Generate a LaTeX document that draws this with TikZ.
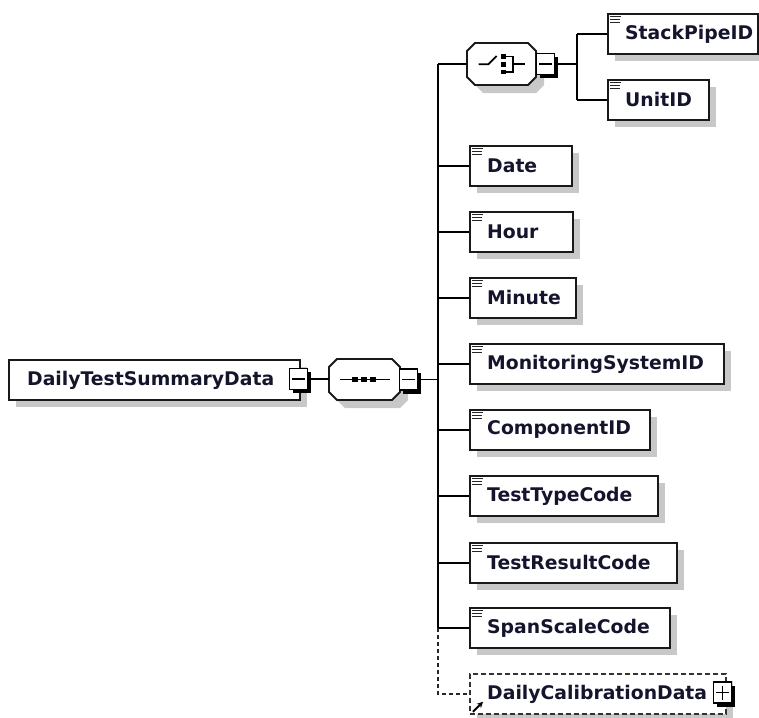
\documentclass[tikz,border=0pt]{standalone}
\usepackage{fontspec}
\setmainfont{DejaVu Sans}
\usetikzlibrary{calc,arrows.meta}
\definecolor{shadowc}{RGB}{200,200,200}
\definecolor{txt}{RGB}{20,20,45}
\tikzset{
  conn/.style={line width=1.9pt, draw=black},
  dconn/.style={line width=1.9pt, draw=black!85, dash pattern=on 4pt off 3pt},
  ebox/.style={rectangle, draw=black!90, line width=1.9pt, fill=white, minimum height=40pt, inner sep=0pt, anchor=north west},
  dbox/.style={rectangle, draw=black!80, line width=1.8pt, dash pattern=on 5pt off 3pt, fill=white, minimum height=40pt, inner sep=0pt, anchor=north west},
  etext/.style={text=txt, font=\bfseries\fontsize{18.8}{20}\selectfont, anchor=west, inner sep=0pt},
  tbox/.style={rectangle, draw=black, line width=1.6pt, fill=white, minimum width=18pt, minimum height=21pt, inner sep=0pt},
  octo/.style={draw=black!90, line width=1.9pt, fill=white},
}
% toggle box: name, cx, cy, plus flag
\newcommand\togglebox[4]{%
  \fill[black] (#2-9+3.5,#3-10.5+3.5) rectangle (#2+9+3.5,#3+10.5+3.5);
  \node[tbox] (#1) at (#2,#3) {};
  \draw[line width=1.6pt] ($(#1.center)+(-6.5,0)$) -- ++(13,0);
  \ifnum#4=1 \draw[line width=1.6pt] ($(#1.center)+(0,-7)$) -- ++(0,14);\fi
}
% element box: name, left x, top y, width, text
\newcommand\elem[5]{%
  \fill[shadowc] (#2+8,#3+8) rectangle (#2+#4+8,#3+48);
  \node[ebox, minimum width=#4pt] (#1) at (#2,#3) {};
  \node[etext] (#1-t) at ([xshift=18pt]#1.west) {#5};
  \foreach \d/\l in {3.5/10.5,6.5/10,9.5/9.5}
    \draw[line width=1.3pt, black!85] ($(#1.north west)+(3,\d)$) -- ++(\l,0);
}
% octagon: left, top, right, bottom, cut
\newcommand\octagon[5]{%
  \fill[shadowc] (#1+8+#5,#2+8) -- (#3+8-#5,#2+8) -- (#3+8,#2+8+#5) -- (#3+8,#4+8-#5) -- (#3+8-#5,#4+8) -- (#1+8+#5,#4+8) -- (#1+8,#4+8-#5) -- (#1+8,#2+8+#5) -- cycle;
  \draw[octo] (#1+#5,#2) -- (#3-#5,#2) -- (#3,#2+#5) -- (#3,#4-#5) -- (#3-#5,#4) -- (#1+#5,#4) -- (#1,#4-#5) -- (#1,#2+#5) -- cycle;
}
\begin{document}
\begin{tikzpicture}[x=1pt,y=-1pt]
\useasboundingbox (0,0) rectangle (759,717);

% ---------- root element ----------
\fill[shadowc] (16,367) rectangle (307,407);
\node[ebox, minimum width=291pt] (root) at (8,359) {};
\node[etext] (root-t) at ([xshift=19pt]root.west) {DailyTestSummaryData};
\togglebox{rootm}{298.5}{379}{0}

% ---------- sequence compositor ----------
\octagon{329}{359}{400}{400}{8}
\coordinate (seqW) at (329,379);
\draw[line width=1.8pt] (340,379.5) -- (390,379.5);
\foreach \x in {355,364,373} \fill (\x-2.6,377) rectangle (\x+2.6,382.2);
\togglebox{seqm}{408.5}{379.5}{0}

% ---------- choice compositor ----------
\octagon{467}{43}{536}{85}{8}
\coordinate (choW) at (467,64);
\draw[line width=1.8pt] (478.5,64.3) -- (488.3,64.3) -- (496.7,56);
\foreach \y in {56.5,64.3,72} \fill (500.8,\y-2.4) rectangle (505.6,\y+2.4);
\draw[line width=1.8pt] (505.4,56.5) -- (513.3,56.5) -- (513.3,72) -- (505.4,72);
\draw[line width=1.8pt] (513.3,64.3) -- (525,64.3);
\togglebox{chom}{545.5}{64}{0}

% ---------- choice children ----------
\elem{stack}{607}{13}{150}{StackPipeID}
\elem{unit}{607}{79}{101}{UnitID}

% ---------- sequence children ----------
\elem{date}{469}{145}{102}{Date}
\elem{hour}{469}{211}{103}{Hour}
\elem{minute}{469}{277}{106}{Minute}
\elem{msys}{469}{343}{254}{MonitoringSystemID}
\elem{comp}{469}{409}{180}{ComponentID}
\elem{ttype}{469}{475}{188}{TestTypeCode}
\elem{tres}{469}{542}{207}{TestResultCode}
\elem{span}{469}{607}{200}{SpanScaleCode}

% optional DailyCalibrationData
\fill[shadowc] (477,681) rectangle (733,721);
\node[dbox, minimum width=256pt] (dcal) at (469,673) {};
\node[etext] (dcal-t) at ([xshift=18pt]dcal.west) {DailyCalibrationData};
\draw[line width=2pt, -{Stealth[length=6pt,width=6pt]}] ($(dcal.south west)+(4,-3)$) -- ++(10,-10);
\togglebox{dcalp}{722.5}{692.5}{1}

% ---------- connectors ----------
\coordinate (bus) at (438,0);
\coordinate (subbus) at (577,0);
\draw[conn] (rootm.east) -- (seqW);
\draw[conn] (seqm.east) -- (bus |- seqm.east);
\draw[conn] (bus |- choW) -- (bus |- span.west);
\draw[conn] (bus |- choW) -- (choW);
\foreach \n in {date,hour,minute,msys,comp,ttype,tres,span}
  \draw[conn] (bus |- \n.west) -- (\n.west);
\draw[dconn] (bus |- span.west) -- (bus |- dcal.west) -- (dcal.west);
\draw[conn] (chom.east) -- (subbus |- chom.east);
\draw[conn] (subbus |- stack.west) -- (subbus |- unit.west);
\draw[conn] (subbus |- stack.west) -- (stack.west);
\draw[conn] (subbus |- unit.west) -- (unit.west);
\end{tikzpicture}
\end{document}
